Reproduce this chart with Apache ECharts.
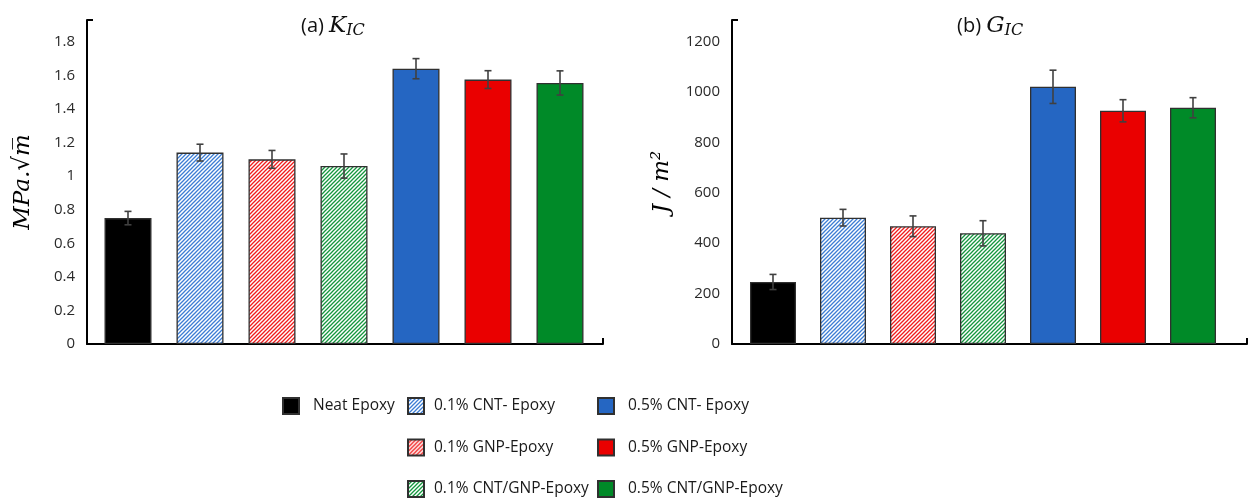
<!DOCTYPE html>
<html>
<head>
<meta charset="utf-8">
<script src="https://cdn.jsdelivr.net/npm/echarts@6/dist/echarts.min.js"></script>
<style>html,body{margin:0;padding:0;background:#fff;}#c{width:1249px;height:500px;}</style>
</head>
<body>
<div id="c"></div>
<script>
const categories = ['Neat Epoxy','0.1% CNT- Epoxy','0.1% GNP-Epoxy','0.1% CNT/GNP-Epoxy','0.5% CNT- Epoxy','0.5% GNP-Epoxy','0.5% CNT/GNP-Epoxy'];
const kicValues = [0.75, 1.14, 1.10, 1.06, 1.64, 1.575, 1.555];
const kicErrors = [0.04, 0.05, 0.053, 0.072, 0.06, 0.053, 0.072];
const gicValues = [246, 501, 467, 439, 1020, 925, 937];
const gicErrors = [30, 33, 41, 50, 66, 44, 40];
const kicTicks = [0, 0.2, 0.4, 0.6, 0.8, 1, 1.2, 1.4, 1.6, 1.8];
const gicTicks = [0, 200, 400, 600, 800, 1000, 1200];
const kicMax = 1.93, gicMax = 1285;

function hatch(color){
  const s = 4;
  const c = document.createElement('canvas');
  c.width = s; c.height = s;
  const g = c.getContext('2d');
  g.fillStyle = '#fff'; g.fillRect(0,0,s,s);
  g.strokeStyle = color; g.lineWidth = 1.3;
  g.beginPath();
  g.moveTo(0,s); g.lineTo(s,0);
  g.moveTo(-1,1); g.lineTo(1,-1);
  g.moveTo(s-1,s+1); g.lineTo(s+1,s-1);
  g.stroke();
  return {image: c, repeat: 'repeat'};
}
const fills = ['#000000', hatch('#3c7dd4'), hatch('#f01c1c'), hatch('#14963e'), '#2566c2', '#ea0000', '#008a28'];

const tickFont = {fontFamily:'Open Sans', fontSize:15, color:'#2a2a2a'};
const serifName = {fontFamily:'DejaVu Serif', fontStyle:'italic', fontSize:23, color:'#000'};

function visualAxes(gi, max, ticks, interval, name, gap){
  return {
    x: {type:'value', gridIndex:gi, min:0, max:1, axisLabel:{show:false}, splitLine:{show:false},
        axisLine:{show:true, lineStyle:{color:'#000', width:2}},
        axisTick:{show:true, inside:true, length:6, customValues:[1], lineStyle:{color:'#000', width:2}}},
    y: {type:'value', gridIndex:gi, min:0, max:max, interval:interval,
        axisLabel:Object.assign({margin:12, customValues:ticks, formatter: v => String(v)}, tickFont),
        splitLine:{show:false},
        axisLine:{show:true, lineStyle:{color:'#000', width:2}},
        axisTick:{show:true, inside:true, length:6, customValues:[max], lineStyle:{color:'#000', width:2}},
        name:name, nameLocation:'middle', nameGap:gap, nameRotate:90, nameTextStyle:serifName}
  };
}
const vL = visualAxes(0, kicMax, kicTicks, 0.2, 'MPa.\u221Am\u0305', 52);
const vR = visualAxes(2, gicMax, gicTicks, 200, 'J / m\u00B2', 58);

function barSeries(xi, yi, values, stack, bw){
  return categories.map((name, i) => ({
    name: name, type:'bar', xAxisIndex:xi, yAxisIndex:yi, stack:stack, barWidth:bw,
    data: values.map((v, j) => j === i ? v : '-'),
    itemStyle:{color:fills[i], borderColor:'#303030', borderWidth:1.3},
    emphasis:{disabled:true}
  }));
}
function errSeries(xi, yi, values, errs){
  return {
    type:'custom', xAxisIndex:xi, yAxisIndex:yi, z:10,
    data: values.map((v, i) => [i, v, errs[i]]),
    encode:{x:0, y:1},
    renderItem: function(params, api){
      const x = api.value(0), v = api.value(1), e = api.value(2);
      const t = api.coord([x, v + e]), b = api.coord([x, v - e]);
      const w = 3.5;
      const st = {stroke:'#404040', lineWidth:1.6};
      return {type:'group', children:[
        {type:'line', shape:{x1:t[0], y1:t[1], x2:b[0], y2:b[1]}, style:st},
        {type:'line', shape:{x1:t[0]-w, y1:t[1], x2:t[0]+w, y2:t[1]}, style:st},
        {type:'line', shape:{x1:b[0]-w, y1:b[1], x2:b[0]+w, y2:b[1]}, style:st}
      ]};
    }
  };
}
const hiddenCat = gi => ({type:'category', gridIndex:gi, data:categories, show:false});
const hiddenVal = (gi, max) => ({type:'value', gridIndex:gi, min:0, max:max, show:false, splitLine:{show:false}});

const legendPos = [[282,397,9],[407,397,5],[407,438.5,5],[407,480,5],[597,397,9],[597,438.5,9],[597,480,9]];
function legendItem(c, i){
  const p = legendPos[i];
  return {left:p[0], top:p[1], data:[c], padding:0, itemWidth:16, itemHeight:16, icon:'rect', selectedMode:false,
    textStyle:{fontFamily:'Open Sans', fontSize:15.5, color:'#1a1a1a', padding:[0,0,0,p[2]]}};
}

const titleRich = {
  a:{fontFamily:'Open Sans', fontSize:20, fontWeight:'normal', color:'#111'},
  k:{fontFamily:'DejaVu Serif', fontStyle:'italic', fontWeight:'normal', fontSize:23, color:'#111'},
  s:{fontFamily:'DejaVu Serif', fontStyle:'italic', fontWeight:'normal', fontSize:16, color:'#111', padding:[10,0,0,0]}
};

const option = {
  animation:false,
  title:[
    {left:296, top:8, text:'{a|(a) }{k|K}{s|IC}', textStyle:{fontWeight:'normal', rich:titleRich}},
    {left:952, top:8, text:'{a|(b) }{k|G}{s|IC}', textStyle:{fontWeight:'normal', rich:titleRich}}
  ],
  legend: categories.map(legendItem),
  grid:[
    {left:87, top:20, width:516, height:324},
    {left:92, top:20, width:504, height:324},
    {left:732, top:20, width:515, height:324},
    {left:738, top:20, width:490, height:324}
  ],
  xAxis:[vL.x, hiddenCat(1), vR.x, hiddenCat(3)],
  yAxis:[vL.y, hiddenVal(1, kicMax), vR.y, hiddenVal(3, gicMax)],
  series: [].concat(
    barSeries(1, 1, kicValues, 'L', 47),
    [errSeries(1, 1, kicValues, kicErrors)],
    barSeries(3, 3, gicValues, 'R', 46),
    [errSeries(3, 3, gicValues, gicErrors)]
  )
};
const chart = echarts.init(document.getElementById('c'));
chart.setOption(option);
</script>
</body>
</html>
